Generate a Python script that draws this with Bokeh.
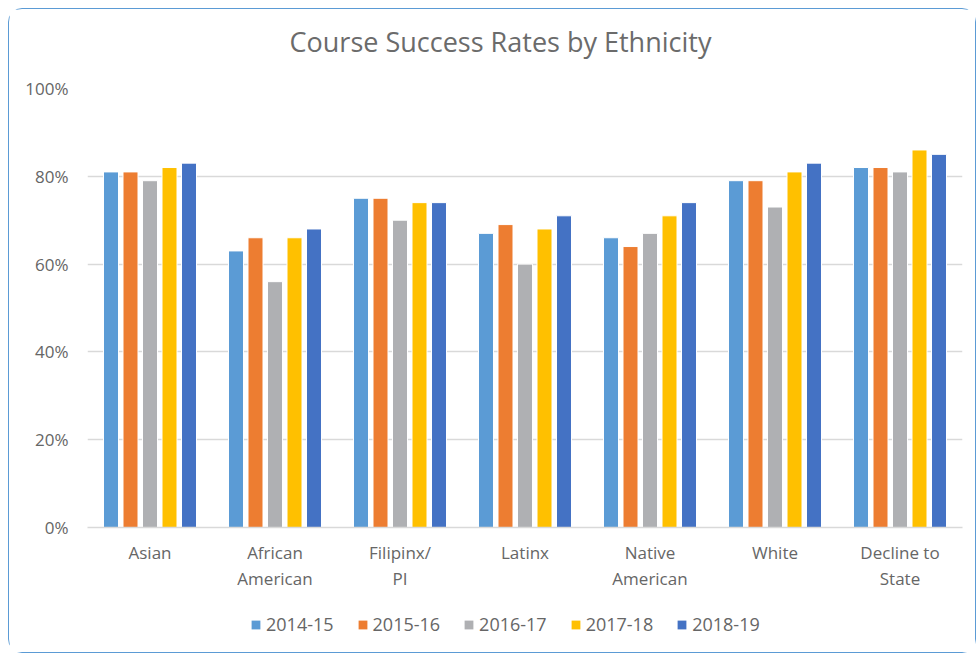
from bokeh.plotting import figure
from bokeh.layouts import column
from bokeh.models import (ColumnDataSource, Range1d, FactorRange, Legend, LegendItem,
                          PrintfTickFormatter, FixedTicker, CategoricalAxis,
                          CustomJSTickFormatter, Label)
from bokeh.transform import dodge
from bokeh.embed import file_html
from bokeh.resources import INLINE

categories = ["Asian", "African American", "Filipinx/ PI", "Latinx",
              "Native American", "White", "Decline to State"]
label_line1 = ["Asian", "African", "Filipinx/", "Latinx", "Native", "White", "Decline to"]
label_line2 = ["", "American", "PI", "", "American", "", "State"]
years = ["2014-15", "2015-16", "2016-17", "2017-18", "2018-19"]
v2014_15 = [81, 63, 75, 67, 66, 79, 82]
v2015_16 = [81, 66, 75, 69, 64, 79, 82]
v2016_17 = [79, 56, 70, 60, 67, 73, 81]
v2017_18 = [82, 66, 74, 68, 71, 81, 86]
v2018_19 = [83, 68, 74, 71, 74, 83, 85]
y_ticks = [0, 20, 40, 60, 80, 100]
title_text = "Course Success Rates by Ethnicity"

colors = ["#5B9BD5", "#ED7D31", "#AFB0B3", "#FFC000", "#4472C4"]
offsets = [-0.312, -0.156, 0.0, 0.156, 0.312]
TXT = "#666666"

src = ColumnDataSource(data=dict(cat=categories, s0=v2014_15, s1=v2015_16,
                                 s2=v2016_17, s3=v2017_18, s4=v2018_19))

# title strip
p0 = figure(width=966, height=50, x_range=Range1d(0, 875), y_range=Range1d(0, 50),
            output_backend="svg", toolbar_location=None, min_border=0, title=None,
            x_axis_location=None, y_axis_location=None)
p0.outline_line_color = None
p0.grid.grid_line_color = None
p0.border_fill_color = "white"
p0.add_layout(Label(x=413, y=18, text=title_text, text_align="center",
                    text_baseline="middle", text_font="Open Sans",
                    text_font_size="27px", text_color="#6B6B6B"))

p = figure(width=966, height=533, x_range=FactorRange(*categories),
           y_range=Range1d(0, 100), output_backend="svg", toolbar_location=None,
           min_border_left=78, min_border_right=13, min_border_top=29,
           min_border_bottom=64, x_axis_location=None, title=None)
p.outline_line_color = None
p.background_fill_color = "white"
p.border_fill_color = "white"

for i, (col, off) in enumerate(zip(colors, offsets)):
    p.vbar(x=dodge("cat", off, range=p.x_range), top="s%d" % i, width=0.12,
           source=src, fill_color=col, line_color="white", line_width=1)

p.xgrid.grid_line_color = None
p.ygrid.grid_line_color = "#D9D9D9"
p.ygrid.grid_line_width = 1.3

p.yaxis.ticker = FixedTicker(ticks=y_ticks)
p.yaxis.formatter = PrintfTickFormatter(format="%d%%")
p.yaxis.axis_line_color = None
p.yaxis.major_tick_line_color = None
p.yaxis.minor_tick_line_color = None
p.yaxis.major_tick_out = 0
p.yaxis.major_label_text_font = "Open Sans"
p.yaxis.major_label_text_font_size = "17px"
p.yaxis.major_label_text_color = TXT
p.yaxis.major_label_standoff = 19

fmt_code = "return labels[cats.indexOf(tick)];"
ax1 = CategoricalAxis(axis_line_color="#D9D9D9", axis_line_width=1.3,
                      major_tick_line_color=None, minor_tick_line_color=None,
                      major_tick_out=0, major_tick_in=0,
                      major_label_text_font="Open Sans", major_label_text_font_size="17px",
                      major_label_text_color=TXT, major_label_standoff=13,
                      formatter=CustomJSTickFormatter(args=dict(cats=categories, labels=label_line1),
                                                      code=fmt_code))
ax2 = CategoricalAxis(axis_line_color=None,
                      major_tick_line_color=None, minor_tick_line_color=None,
                      major_tick_out=0, major_tick_in=0,
                      major_label_text_font="Open Sans", major_label_text_font_size="17px",
                      major_label_text_color=TXT, major_label_standoff=0,
                      formatter=CustomJSTickFormatter(args=dict(cats=categories, labels=label_line2),
                                                      code=fmt_code))
p.add_layout(ax1, "below")
p.add_layout(ax2, "below")

# legend strip beneath the chart (swatch renderers are zero-size bars)
p2 = figure(width=966, height=60, x_range=Range1d(0, 1), y_range=Range1d(0, 1),
            output_backend="svg", toolbar_location=None, min_border=0, title=None,
            x_axis_location=None, y_axis_location=None)
p2.outline_line_color = None
p2.grid.grid_line_color = None
p2.border_fill_color = "white"
items = []
for y, col in zip(years, colors):
    r = p2.vbar(x=[0], top=[0], width=0, fill_color=col, line_color=None)
    items.append(LegendItem(label=y, renderers=[r]))
legend = Legend(items=items, orientation="horizontal", location=(163, 16),
                glyph_width=11, glyph_height=11, label_standoff=5, spacing=23,
                padding=0, margin=0, border_line_alpha=0, background_fill_alpha=0,
                label_text_font="Open Sans", label_text_font_size="18px",
                label_text_color=TXT)
p2.add_layout(legend, "center")

layout = column(p0, p, p2, spacing=0,
                styles={"border": "1px solid #5B9BD5", "border-radius": "14px",
                        "margin-left": "8px", "margin-top": "8px",
                        "background-color": "white"})

open("out.html", "w").write(file_html(layout, INLINE))
